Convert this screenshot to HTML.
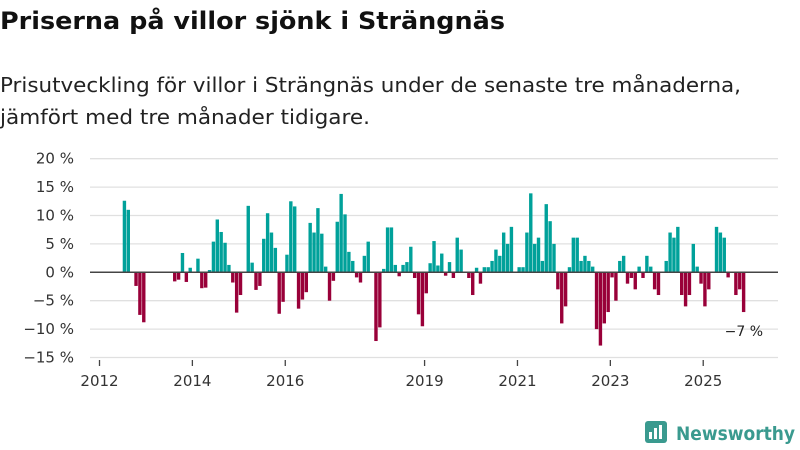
<!DOCTYPE html>
<html><head><meta charset="utf-8"><style>
body{margin:0;width:800px;height:450px;background:#fff;font-family:"DejaVu Sans","Liberation Sans",sans-serif;overflow:hidden}
svg{position:absolute;left:0;top:0}
</style></head><body>
<svg width="800" height="450">
<text x="0" y="29" font-size="24" font-weight="bold" fill="#111" textLength="505" lengthAdjust="spacingAndGlyphs">Priserna på villor sjönk i Strängnäs</text>
<text x="0" y="92" font-size="20" fill="#222" textLength="741" lengthAdjust="spacingAndGlyphs">Prisutveckling för villor i Strängnäs under de senaste tre månaderna,</text>
<text x="0" y="124" font-size="20" fill="#222" textLength="370" lengthAdjust="spacingAndGlyphs">jämfört med tre månader tidigare.</text>
<g id="grid"></g><g id="bars"></g><g id="xaxis"></g>
<text x="763" y="336" font-size="14" fill="#222" text-anchor="end">−7 %</text>
<g>
<rect x="645" y="421" width="22" height="22" rx="3" fill="#3a9a8f"/>
<rect x="649" y="432" width="3" height="7" fill="#fff"/><rect x="654" y="428" width="3" height="11" fill="#fff"/><rect x="659" y="425" width="3" height="14" fill="#fff"/>
<text x="676" y="440" font-size="19" font-weight="bold" fill="#3a9a8f" textLength="119" lengthAdjust="spacingAndGlyphs">Newsworthy</text>
</g>
</svg>
<script>
const yTicks=[20,15,10,5,0,-5,-10,-15];
const yTickLabels=["20 %","15 %","10 %","5 %","0 %","−5 %","−10 %","−15 %"];
const xTickYears=[2012,2014,2016,2019,2021,2023,2025];
const startYear=2012, startMonth=6;
const values=[12.6,11.0,0,-2.4,-7.5,-8.8,0,0,0,0,0,0,0,-1.6,-1.3,3.4,-1.7,0.8,0,2.4,-2.8,-2.7,0.4,5.4,9.3,7.1,5.2,1.3,-1.8,-7.1,-4.0,0,11.7,1.7,-3.1,-2.4,5.9,10.4,7,4.3,-7.3,-5.2,3.1,12.5,11.6,-6.4,-4.8,-3.5,8.7,7,11.3,6.8,1,-5.0,-1.5,8.9,13.8,10.2,3.6,2,-0.9,-1.8,2.9,5.4,0,-12.1,-9.7,0.6,7.9,7.9,1.3,-0.7,1.3,1.8,4.5,-1,-7.4,-9.5,-3.7,1.6,5.5,1.2,3.3,-0.6,1.8,-1,6.1,4,0,-1,-4,0.8,-2,0.9,0.9,2,4,2.9,7,5,8,0,0.9,0.9,7,13.9,5,6.1,2,12,9,5,-3,-9,-6,0.9,6.1,6.1,2,2.9,2,1,-10,-12.9,-9,-7,-0.9,-5,2,2.9,-2,-1,-3,1,-1,2.9,1,-3,-4,0,2,7,6.1,8,-4,-6,-4,5,1,-2,-6,-3,0,8,7,6.1,-0.9,0,-4,-3,-7];
const NS='http://www.w3.org/2000/svg';
const y=v=>272.3-v*5.68;
const x=m=>99.5+m*3.87;
const grid=document.getElementById('grid');
yTicks.forEach((t,i)=>{
 const l=document.createElementNS(NS,'line');
 
 
 l.setAttribute('x1',90);l.setAttribute('x2',778);l.setAttribute('y1',y(t));l.setAttribute('y2',y(t));
 l.setAttribute('stroke','#e0e0e0');l.setAttribute('stroke-width',1.3);
 if(t!==0)grid.appendChild(l);
 const tx=document.createElementNS(NS,'text');
 
 
 tx.setAttribute('x',74);tx.setAttribute('y',y(t)+5);tx.setAttribute('text-anchor','end');
 tx.setAttribute('font-size','15');tx.setAttribute('fill','#333');tx.textContent=yTickLabels[i];
 grid.appendChild(tx);
});
const bars=document.getElementById('bars');
values.forEach((v,i)=>{
 if(v===0)return;
 const r=document.createElementNS(NS,'rect');
 
 
 const m=startMonth+i;
 r.setAttribute('x',x(m));r.setAttribute('width',3.4);
 r.setAttribute('y',Math.min(y(v),y(0)));r.setAttribute('height',Math.abs(y(v)-y(0)));
 r.setAttribute('fill',v>0?'#00a19a':'#990039');
 bars.appendChild(r);
});
const zl=document.createElementNS(NS,'line');


zl.setAttribute('x1',90);zl.setAttribute('x2',778);zl.setAttribute('y1',y(0));zl.setAttribute('y2',y(0));
zl.setAttribute('stroke','#444');zl.setAttribute('stroke-width',1.5);
bars.appendChild(zl);
const xa=document.getElementById('xaxis');
xTickYears.forEach(yr=>{
 const px=x((yr-startYear)*12);
 const t=document.createElementNS(NS,'line');
 
 
 t.setAttribute('x1',px);t.setAttribute('x2',px);t.setAttribute('y1',360);t.setAttribute('y2',366);
 t.setAttribute('stroke','#444');t.setAttribute('stroke-width',1.3);xa.appendChild(t);
 const tx=document.createElementNS(NS,'text');
 
 
 tx.setAttribute('x',px);tx.setAttribute('y',386);tx.setAttribute('text-anchor','middle');
 tx.setAttribute('font-size','15');tx.setAttribute('fill','#333');tx.textContent=yr;xa.appendChild(tx);
});
</script>
</body></html>
